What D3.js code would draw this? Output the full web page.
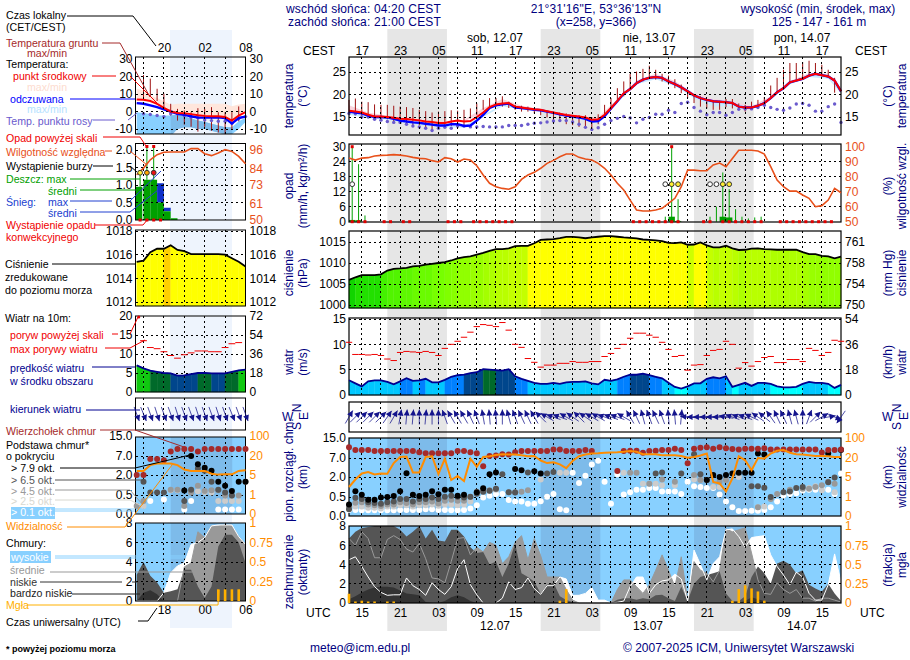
<!DOCTYPE html>
<html lang="pl">
<head>
<meta charset="utf-8">
<title>Meteorogram ICM</title>
<script src="https://cdnjs.cloudflare.com/ajax/libs/d3/7.8.5/d3.min.js"></script>
<style>
  body { margin: 0; background: #fff; }
  svg { display: block; }
  text { font-family: "Liberation Sans", Arial, sans-serif; font-size: 12px; }
</style>
</head>
<body>
<svg id="chart" width="910" height="660"></svg>
<script>
// main panel: one value per hour, index 0 = 13 UTC on 11.07, index 77 = 18 UTC on 14.07
const tempMid = [16.4,16.2,16,15.5,15.1,15.1,15,14.85,14.6,14.55,
  14.4,14.25,14,13.9,13.65,13.65,14,14.2,14,14.1,
  15,16,17.2,17.8,18,18.1,17.3,17.1,16.9,16.7,
  16.6,16.3,16,15.7,15.45,15.3,15.1,14.9,14.4,14.5,
  15.5,17,18.6,20.3,21.2,22.5,23.3,23.7,23.9,23.7,
  22.9,22.3,21.6,20.7,19.8,19.2,18.8,18.5,18.4,18.3,
  18.1,17.3,17.1,17.1,17.5,18.1,19.2,20.5,21.4,22.7,
  23.1,23.5,24.2,24.6,24.3,24,23.1,20.7];
const tempFeels = [16.2,16,15.8,15.3,15,15,14.9,14.6,14.2,14,
  13.8,13.7,13.5,13.3,13.1,13.1,13.4,13.4,13,13.1,
  14.2,15.45,17,17.6,17.8,18,17.1,17,16.8,16.6,
  16.5,16.2,15.9,15.6,15.3,15.1,14.9,14.6,14,14.1,
  15.2,16.9,18.5,20.2,21.2,22.5,23.3,23.7,23.9,23.7,
  22.9,22.3,21.6,20.7,19.8,19.2,18.8,18.5,18.4,18.3,
  18.1,17.3,17.1,17.1,17.5,18.1,19.2,20.5,21.4,22.7,
  23.1,23.5,24.2,24.6,24.3,24,23.1,20.7];
const tempDew = [15.8,15.7,15,15,14.5,14.3,14,13.8,13.8,13.4,
  13,12.8,12.5,12,12.5,12.7,12.5,13,13,12.8,
  12.8,12.9,12.8,12.8,12.8,13.1,13.1,13.1,13.4,13.6,
  13.7,13.9,14.1,14.2,14.2,13.9,13.4,12.7,12.2,12.6,
  13.4,14.2,14.7,15.1,14.8,13.7,14.5,14.9,15.6,15.6,
  16.5,16,18,18.3,17.1,16.3,15.5,16,16,15.4,
  16,16.7,16.8,16.8,17.1,17.6,17.1,16.7,16.5,17,
  17.9,18,17.6,16.3,16.3,17.3,17.9,13.8];
const groundMax = [18.8,19.1,18.4,18.3,17.8,17.7,17.7,17.5,17.3,17.2,
  17,16.6,16.3,16,16.2,16.3,16.5,16.4,16.6,16.9,
  18,18.8,19.2,19.2,19.6,18.4,17.7,17.5,17.3,16.9,
  16.7,16.4,16.2,16,15.8,15.4,15.4,15.4,15,15.6,
  17.7,19.2,21.4,22.9,24.6,25.1,25.7,26.4,25.5,24.6,
  24.2,23.4,22.2,21,19.9,19.6,19,18.6,18.6,19,
  19,18,17.7,18.4,18.8,19.4,22,23.7,25.5,27,
  27,27.2,27.5,27,26.6,25.5,23.7,20.7];
const groundMin = [15.8,15.4,15.2,15.1,14.9,14.5,14.5,14,13.7,13.2,
  12.8,13.2,12.5,12.2,12.8,13,13,12.5,13.2,14.7,
  15.4,16.6,16.9,17.3,17.3,17,16.6,16.2,16.2,15.8,
  15.4,14.9,14.3,14,13.4,13.2,12.8,12.7,12.5,13.4,
  15.1,16.6,18.4,19.6,21.2,22.2,22.9,23.5,23.3,22.9,
  22.2,21.4,20.3,19.2,18.1,17.3,16.9,16.6,16.6,17.2,
  16.9,16.6,16.2,16.9,17.3,17.7,19.2,20.3,21,22.5,
  23.3,23.3,23.9,24.4,24,23.7,20.4,20.7];
const bandIdx = [0,3,6,9,12,15,18,21,24,27,30,33,36,39,42,45,48,51,54,57,60,63,66,69,72,75,77];
const tempHigh = [17.6,16,15.3,14.9,14.3,14,14.4,17,19,17.5,16.8,15.9,15.3,14.9,19,23.1,24.6,23,20.3,19,18.5,17.4,19.6,23,24.7,24.6,21.5];
const feelsLow = [15.5,14.7,14.4,13.6,13,12.7,12.6,15,17.4,16.7,16.2,15.2,14.5,13.5,18.2,22.3,23.4,21.9,19.2,17.4,17.4,16.8,18.9,22.3,23.9,23.5,20.3];

const humidity = [92.4,91.1,92.4,92.7,93.8,94.2,94.4,94.7,94.4,93.8,
  92.9,92.2,92,90.7,89.8,92.7,92,89.8,91.8,91.1,
  87.3,81.1,75.6,73.3,72.2,71.6,73.3,78.2,81.1,82.9,
  85.6,88.9,90.9,93.3,95.1,95.1,92.9,91.8,91.1,88.9,
  85.6,81.1,75.6,71.1,64.4,57.8,57.1,57.1,57.8,58.9,
  62.2,65.6,73.3,84.4,84.4,84,84,87.8,89.1,86.7,
  92.2,97.6,97.6,97.6,97.1,95.1,86.7,77.8,73.3,70.4,
  70.4,67.8,65.6,60,60.7,64.4,72.2,69.3];
const rainHours = [0,1,2,49,50,51,56,57,58,59,60,61,62,63,64];
const rainMax = [31,23,2.5,2,31,9,2,6,19.7,13,5,2,1.3,1.7,2];
const rainMean = [0.7,0.6,0,0,2,0.3,0,0,2,1.7,0,0,0,0,0];
const convHours = [0,1,2,5,6,8,9,15,16,17,19,20,21,22,23,24,25,44,45,46,47,48,49,50,51,55,56,58,59,60,61,62,63,64,67,68,69,70,71,72,73,74,75];
const stormHours = [0,49,50,51,56,57,58,59];
const stormLevels = [0,0,1,1,0,0,1,1];

const pressure = [1006,1006.6,1007.1,1007.1,1007.1,1007.3,1008.2,1008.6,1008.7,1008.85,
  1009.2,1009.3,1009.6,1009.8,1010,1010.2,1010.6,1011.1,1011.4,1011.6,
  1012,1012.4,1012.9,1013.3,1013.3,1013.5,1014,1014.1,1014.1,1014.7,
  1015.5,1015.6,1015.7,1015.9,1016.2,1016.2,1016.1,1015.9,1016.1,1016.25,
  1016.4,1016.4,1016.25,1016.1,1016,1015.85,1015.6,1015.5,1015.4,1015.2,
  1014.8,1014.75,1014.9,1014.35,1014.4,1014.9,1014.2,1013.7,1013.7,1014.1,
  1013.5,1013.1,1013.15,1013.4,1013.5,1013.3,1013.25,1013.15,1013.15,1013.15,
  1013.15,1012.6,1012.1,1012.1,1011.7,1011.6,1011.1,1011.5];
const windSpeed = [2.9,2.3,1.7,2.7,2.9,2.9,2.6,2.1,2.7,3.3,
  2.8,2.9,3.2,2.5,2.5,3,3.6,3.9,4,4.3,
  4.5,5.1,5,4.9,4.8,5.1,3.7,3.2,2.8,2.4,
  2.2,2.2,2.4,2.2,2.5,2.6,2.6,2.7,2.3,2.1,
  3,2.8,3.1,3.6,4,4,4.2,3.9,3.6,3.3,
  2.4,1.6,1.25,1.7,2.3,2.3,3.2,3.5,3.3,3.7,
  1.6,2,2.4,1.8,2.4,2.4,2.2,1.7,1.5,1.5,
  1.6,2.2,2.6,2.4,2.4,2.2,1.4,2];
const windGust = [10.4,8,8,7.9,8,7.8,7.1,6.8,8.4,8.6,
  8.5,8.4,8.6,8.4,7.8,9.2,10,10.6,11.4,12.4,
  13.5,13.9,13.75,13.5,14.3,12.8,10,9.4,7.2,6.45,
  5.5,5.9,5.9,6.25,6.25,6.6,6.45,6.45,6.6,6.6,
  7.6,8.2,9.2,10,11.2,12.2,12.2,11.8,11.4,10.4,
  9,7.6,7.8,4.9,5.9,6,7.8,8.8,9,10.6,
  10,5.3,6.4,5.7,6.6,7.4,7.6,6.4,6.4,7,
  7,6.6,9.2,8.8,7.8,8.4,10.8,10.6];
const windTo = [30,45,45,45,45,45,35,30,10,5,
  5,0,5,0,0,-20,-30,-30,-30,-25,
  -20,-10,-5,-5,0,-15,-20,-25,-25,-30,
  -45,-60,-70,-70,-60,-55,-45,-55,-60,-60,
  -70,-70,-70,-60,-30,-25,-15,-20,-25,-20,
  -5,-5,5,-85,-90,-90,-90,-90,-90,-80,
  -70,-70,-70,-65,-55,-50,-35,-25,-25,-15,
  -15,0,20,45,60,80,110,215];

const cloudTop = [11.3,10.2,10.2,10.2,9.8,9.8,9.8,9.8,9.8,9.8,
  9.8,9.3,8.9,8.9,8.9,8.9,8.9,9.8,9.8,9.3,
  8.9,4.8,7.8,8,8.5,8.4,9.3,9.8,9.8,9.8,
  9.8,9.8,10.4,10.4,9.8,9.8,9.8,10.2,9.8,null,
  null,null,3.6,9.8,9.9,9.9,9.1,9.8,9.9,10.2,
  10.2,10.7,10.2,5.6,10.7,11.1,11.3,10.7,11.3,10.9,
  10.6,10.4,10.7,10.7,10.7,10.9,10.4,10.4,10.4,10.4,
  10.4,10.4,10.4,10.4,9.2,10.2,10.2,10.4];
const base79 = [0.3,0.94,0.66,0.43,0.43,0.49,0.5,0.58,0.94,3,
  0.66,0.58,0.66,0.94,0.7,1.04,1.04,0.6,0.66,null,
  0.86,1.15,2.7,3.2,null,null,4.1,3.8,null,3.5,
  2.95,null,null,null,null,null,null,null,null,null,
  null,null,null,null,null,null,null,null,null,null,
  null,null,null,null,null,null,1.77,2.5,2,2.5,
  2.95,3.1,3.1,3.1,8.8,8.4,null,null,null,null,
  null,null,null,null,null,8.8,null,10.2];
const base65 = [0.18,0.48,0.45,0.36,0.34,0.32,0.36,0.38,0.45,0.45,
  0.38,0.45,0.45,0.49,0.45,0.52,0.6,0.52,0.49,0.52,
  0.75,0.9,0.97,1.12,2.7,0.86,0.84,null,3.2,null,
  null,2.95,3.3,null,null,null,null,null,null,null,
  null,null,null,null,null,null,null,null,2.95,3.2,
  null,null,2.95,null,8.5,2.7,null,null,null,null,
  null,null,null,1.3,1.3,1.2,0.5,null,0.86,0.91,
  1.17,1.25,null,null,null,1.6,1.97,null];
const base45 = [0.25,0.35,0.36,0.3,0.28,0.26,0.3,0.3,0.36,0.34,
  0.3,0.36,0.36,0.38,0.33,0.4,0.43,0.4,0.4,0.5,
  0.9,0.95,1,1.1,null,0.85,0.85,0.9,1,null,
  null,null,null,null,null,null,null,null,null,null,
  null,null,null,null,3.1,3.1,null,1.5,null,1.82,
  null,1.64,null,null,2.5,1.77,1.77,null,1.64,1.77,
  null,null,null,null,0.23,null,0.45,0.73,null,1.04,
  null,1.12,1.12,1.25,1.38,1.64,1.5,null];
const base25 = [0.2,0.25,0.25,0.22,0.22,0.2,0.25,0.25,0.28,0.28,
  0.25,0.28,0.28,0.3,0.27,0.3,0.3,0.28,0.3,0.38,
  0.8,0.9,0.95,1.04,null,null,null,null,null,null,
  1.82,null,null,3.1,3.1,null,null,null,null,null,
  null,null,null,3.1,null,null,1.5,1.5,1.5,1.38,
  null,1.38,null,null,1.82,1.77,null,1.25,1.25,null,
  null,2,null,null,0.23,0.25,null,null,null,null,
  null,null,1.17,1.3,1,null,0.86,null];
const base01 = [0.16,0.16,0.15,0.15,0.15,0.15,0.15,0.15,0.16,0.16,
  0.16,0.16,0.18,0.18,0.16,0.16,0.15,0.15,0.16,0.2,
  0.28,0.49,0.6,0.73,0.73,0.42,0.38,0.38,0.32,0.32,
  0.39,0.51,0.73,0.18,0.15,3.1,1.55,2.3,5.3,6.3,
  1.64,0.32,2.7,0.68,0.86,1.04,1.04,1.17,1.17,0.91,
  0.91,0.91,0.73,1.64,1.3,1.25,1.17,1.17,0.68,0.38,
  0.23,0.13,0.13,0.14,0.14,0.16,0.23,0.38,0.62,0.73,
  0.78,0.99,1.04,1.04,1.12,1.04,0.73,2.95];
const visibility = [3,4.5,7.8,8.9,7,7.8,7.6,16,24,25.5,
  8.6,8.6,24,27,7.3,19.5,4.4,5.8,4.2,19.5,
  13,24,27,32,35,34,34,31,27,28,
  18,16,16.6,15,12,17.7,27,34,38,39,
  41,42,43,45,48,45,35,35,35,31,
  31,31,28,21,24,30,38,4,3.7,2.1,
  4.7,27,18.2,10.4,20,19.5,38,49,52,41,
  35,34,31,28,28,27,24,24];
const cloudHigh = [4.5,4.8,3.8,2.7,1.7,1.1,0.8,0.85,0.85,2.6,
  1.8,1.4,0.8,2.1,1.4,0.9,1.7,3.6,4.5,1.9,
  0.85,0,0,0,0.5,2.2,1.4,1.6,2.6,1.5,
  0.9,1.8,1.8,2.7,2.5,0.8,0.8,1,1.6,0.3,
  0.3,0,0.07,0.2,1.7,2.7,2.7,1,1.9,2.3,
  2.4,3,2.5,0.2,5.5,4,2.4,4.1,4.8,7.6,
  7.7,6.9,5.8,6.8,6.9,7,5,3.8,2.9,1.9,
  3.2,2.7,1,0.3,0.3,1.9,5.1,2.2];
const cloudMid = [6.7,6,7.4,6.7,4.7,4.7,6.6,7,6.6,5.6,
  5.3,6.2,4.6,2.6,2.5,2.1,4.3,6.7,6.8,5,
  5.8,5.3,6.3,6,4.1,4.8,6.3,7,4.5,6.7,
  4.9,2.7,2.7,2.7,1.4,0.3,0,0,0,0,
  0,0,1.4,2.4,2.4,1.7,1,1.9,3.4,5,
  3.4,1.7,4.8,0.3,4.3,3.4,3.1,2.2,3.4,7.7,
  7.4,7.6,7.8,5.2,2.4,1,0.9,2.1,1.4,1,
  1.4,0.5,0.5,0.2,0.5,0.5,0.3,0.1];
const cloudLow = [6.7,7.4,7.8,7.9,8,8,8,8,7.6,6.9,
  7.4,8,6.7,7.6,6.5,6.4,7.6,7.6,6.9,5.8,
  5.2,5.3,4,4.3,2.7,4.1,6.2,3.1,2.7,2.2,
  1,1.9,2.1,0.7,0.3,0.1,0,0,0,0,
  0,0,0.35,0.5,0.5,0.35,0.5,0.4,0.8,0.85,
  0.5,0.2,1.7,0.2,2,2.7,2.9,3.1,3.3,1,
  0.2,0.2,0.7,2.7,3.8,3.1,2,4.1,4.4,4,
  3.1,3.4,1.9,1.5,1.2,2,1,0.2];
const cloudVeryLow = [0.4,0.7,1.1,1.4,1.6,1.7,1.7,1.6,1.3,1,
  0.9,0.8,0.1,0,0,0.2,0.6,0.8,0.6,0.2,
  0,0,0,0,0,0,0,0,0,0,
  0,0,0,0,0,0,0,0,0,0,
  0,0,0,0,0,0,0,0,0,0,
  0,0,0,0,0,0,0,0,0,0,
  0,0,0.2,0.6,0.4,0.2,0,0,0,0,
  0,0,0,0,0,0,0,0];
const fogHours = [0,1,2,3,4,6,7,33,34,60,61,62,63,64,65];
const fogValues = [0.12,0.02,0.03,0.02,0.02,0.02,0.02,0.03,0.18,0.03,0.18,0.23,0.19,0.15,0.03];

// legend panel: hourly samples, index 0 = 14 UTC, index 16 = 06 UTC
const legMid = [6.9,6.7,6,4.4,2.1,0,-0.8,-1,-1.5,-2.1,-2.5,-2.7,-2.7,-3.1,-5.2,-2.3,-0.4];
const legFeels = [4.8,4.4,3.5,2.5,1.2,0,-1.3,-1.9,-2.7,-3.5,-3.5,-3.5,-3.3,-3.8,-6.9,-3.7,-2.9];
const legDew = [null,-1.3,-1.7,-2.3,-2.9,-1.3,-1.3,-2.3,-3.3,-3.7,-4.8,-5.2,-5.6,-5.6,-6.7,-4.2,-2.9];
const legGroundMax = [null,20.8,18.8,13,10.2,4.4,1.5,0.6,-0.4,1.9,1.5,2.5,-0.4,-0.4,-0.4,2.9,null];
const legGroundMin = [null,7.3,8.3,6,2.5,-2.3,-5.2,-7.5,-8.7,-11.5,-8.7,-11,-12,-12.9,-10,-5.6,null];
const legHigh = [13,12,9,7.7,5.8,3.8,4.4,4.4,4.4,4.4,4.4,4.4,4.4,4.4,3,4,4.4];
const legBlueTop = [-0.4,-0.8,-1.4,-2.3,-2.3,-2.3,-1.9,-2.7,-4,-5.2,-6,-7,-8,-9,-9,-5.5,-3.5];
const legBlueLow = [-14,-14,-14,-14,-14,-14,-10,-9,-9,-10,-10,-11,-12,-13,-13,-10,-6];
const legHumidity = [79.7,84.1,89.6,92.9,94.5,94.7,94.7,94.7,96.9,96.9,93.6,92.3,94,96.2,95.1,91.8,87];
const legRainHours = [0,1,2,3,4,5];
const legRainMean = [0.95,1.15,1.15,0.5,0.25,0.05];
const legSnowTop = [0,0,0,1.05,0.35,0];
const legRainMax = [1.35,2.1,2.1,0,0,0];
const legOverHours = [1,2];
const legConvHours = [0,1,2,3];
const legStormHours = [0,1,2];
const legStormColors = ["#ffee33","#ffa500","#ee1111"];
const legPressure = [1015.4,1015.5,1016.2,1016.5,1016.5,1016.8,1016.4,1016.3,1016.05,1016.05,1016.05,1016.05,1016.05,1016,1015.7,1015.4,1015];
const legWind = [7,6.2,5.6,5.3,5,4.9,4.3,4.4,4.7,5,5,4.9,4.9,4.9,5.3,5.7,5.9];
const legGust = [null,13.5,11.7,11.4,10.6,9.6,8.9,9.8,10.3,10.8,10.8,10.6,10.6,11.7,12.7,13,null];
const legWindTo = [160,158,160,162,160,160,162,160,160,162,160,160,162,160,158,160,160];
const legTop = [2,2,6.2,6.2,5.9,8.8,9.8,9.8,9.8,8.8,9.8,9.8,9.8,9.8,9.8,9.8,9.8];
const leg79 = [null,null,null,null,null,null,null,0.83,7,4.8,3.9,3.1,1.5,1.2,0.8,1.5,1.5];
const leg65 = [null,1.5,0.68,0.68,0.68,null,null,0.34,0.9,3.7,3.1,1.5,0.9,0.68,0.49,null,null];
const leg45 = [0.21,0.34,null,null,null,0.9,0.9,0.21,0.68,1.2,0.8,0.85,0.85,0.49,0.49,0.49,1.5];
const leg25 = [null,0.21,null,null,null,0.85,0.85,null,0.8,0.78,0.72,0.68,0.34,0.34,0.34,0.34,null];
const leg01 = [null,null,0.34,null,0.38,null,null,0.12,0.34,null,null,null,0.12,0.12,0.12,0.12,null];
const legVis = [8.2,8.2,12.8,14.1,14.1,14.1,12.8,9.3,8.2,8.2,8.2,6,5.3,5.5,5.5,8.2,8.8];
const legCloudHigh = [0,0,0,0,0.85,2.9,3.6,3.9,5.8,6,6.5,7.7,7.8,7.8,7.8,6.6,5.8];
const legCloudMid = [0,0,0,0,0,0,0,3.5,3.9,7.1,6.5,7.7,7.7,7.8,7.7,6.6,5.8];
const legCloudLow = [2.7,4,2.6,1.9,0.85,1,1.2,3.2,3.2,1.5,0.3,1.5,5.6,6.8,6.8,6,3.9];
const legCloudVeryLow = [0,0.85,1.1,0.7,0,0,0,0,0,0,0,0,0,0,0,0,0];
const legFogHours = [12,13,14,15];
const legFogValues = [0.15,0.15,0.15,0.15];

// tick labels
const cestTicks = d3.range(2, 78, 6);
const cestLabels = ["17","23","05","11","17","23","05","11","17","23","05","11","17"];
const utcLabels = ["15","21","03","09","15","21","03","09","15","21","03","09","15"];
const nightBands = [[6, 15.33], [30, 39.33], [54, 63.33]];

const blue = "#000080", rhColor = "#e8501a", visColor = "#ff8c00", sky = "#88d0ff", skyNight = "#7dbbea";
const svg = d3.select("#chart");

function label(x, y, str, fill, opts) {
  opts = opts || {};
  const t = svg.append("text").attr("x", x).attr("y", y).attr("fill", fill || "#000").text(str);
  if (opts.anchor) t.attr("text-anchor", opts.anchor);
  if (opts.size) t.style("font-size", opts.size + "px");
  if (opts.weight) t.style("font-weight", opts.weight);
  if (opts.spacing) t.style("letter-spacing", opts.spacing + "px");
  if (opts.rot) t.attr("transform", "rotate(" + opts.rot + " " + x + " " + y + ")");
  return t;
}

function vlabel(x, y, str, fill) {
  label(x, y, str, fill || blue, {anchor: "middle", rot: -90});
}

function axis(x, side, scale, ticks, fmt, color) {
  const gen = (side === "l" ? d3.axisLeft(scale) : d3.axisRight(scale))
    .tickValues(ticks).tickSize(0).tickPadding(side === "l" ? 3 : 4).tickFormat(fmt || (d => d));
  const g = svg.append("g").attr("transform", "translate(" + x + ",0)").call(gen);
  g.select(".domain").remove();
  g.selectAll("text").attr("fill", color || "#000").style("font-size", "12px");
}

// dashed grid + border of one panel
function frame(x, gridX, y, ticks, left, right, top, bottom, w) {
  const g = svg.append("g");
  gridX.forEach(d => g.append("line").attr("x1", x(d)).attr("x2", x(d)).attr("y1", top).attr("y2", bottom));
  (ticks || []).forEach(d => g.append("line").attr("x1", left).attr("x2", right).attr("y1", y(d)).attr("y2", y(d)));
  g.selectAll("line").attr("stroke", "#000").attr("stroke-dasharray", "2,3").attr("shape-rendering", "crispEdges");
  svg.append("rect").attr("x", left).attr("y", top).attr("width", right - left).attr("height", bottom - top)
    .attr("fill", "none").attr("stroke", "#000").attr("stroke-width", w || 1);
}

// fills under a line, one color per hour step
function stepFill(x, y, values, bottom, colorOf) {
  const area = d3.area().x(d => x(d[0])).y0(bottom).y1(d => y(d[1]));
  for (let i = 0; i < values.length - 1; i++) {
    const c = colorOf((values[i] + values[i + 1]) / 2);
    svg.append("path").attr("d", area([[i, values[i]], [i + 1, values[i + 1]]]))
      .attr("fill", c).attr("stroke", c).attr("stroke-width", 0.4);
  }
}

const greenRamp = d3.scaleLinear().domain([1006, 1007, 1008, 1010, 1012, 1014.4])
  .range(["#00c800", "#22e000", "#44f000", "#77ff00", "#99ff00", "#ccff00"]);
function pressureColor(p) {
  if (p >= 1016.64) return "#ffd000";
  if (p >= 1014.4) return "#ffff00";
  return greenRamp(Math.round(p * 2) / 2);
}
function windColor(v) {
  if (v >= 5.6) return "#10c810";
  if (v >= 4.95) return "#006a2a";
  if (v >= 4) return "#00468c";
  if (v >= 3) return "#0080ff";
  if (v >= 2) return "#00c8ff";
  return "#00ffff";
}

function lineOf(x, y) {
  return d3.line().defined(d => d[1] != null).x(d => x(d[0])).y(d => y(d[1]));
}
function pairs(values) { return values.map((v, i) => [i, v]); }

function dots(x, y, values, fill, r) {
  svg.append("g").selectAll("circle").data(pairs(values).filter(d => d[1] != null)).join("circle")
    .attr("cx", d => x(d[0])).attr("cy", d => y(d[1])).attr("r", r).attr("fill", fill);
}

function arrows(x, yc, bearings, len) {
  const g = svg.append("g").attr("stroke", "#14148c").attr("fill", "#14148c");
  bearings.forEach((b, i) => {
    const a = b * Math.PI / 180, sx = Math.sin(a), sy = -Math.cos(a);
    const cx = x(i), hx = cx + sx * len / 2, hy = yc + sy * len / 2;
    g.append("line").attr("x1", cx - sx * len / 2).attr("y1", yc - sy * len / 2).attr("x2", hx).attr("y2", hy).attr("stroke-opacity", 0.75);
    g.append("path").attr("stroke", "none").attr("d",
      "M" + hx + "," + hy +
      "L" + (hx - sx * 6 - sy * 3) + "," + (hy - sy * 6 + sx * 3) +
      "L" + (hx - sx * 6 + sy * 3) + "," + (hy - sy * 6 - sx * 3) + "Z");
  });
}

function skyPanel(left, right, top, bottom, bandX0, bandX1) {
  svg.append("rect").attr("x", left).attr("y", top).attr("width", right - left).attr("height", bottom - top).attr("fill", sky);
  svg.append("rect").attr("x", bandX0).attr("y", top).attr("width", bandX1 - bandX0).attr("height", bottom - top).attr("fill", skyNight);
}

function cloudAreas(x, y, bottom, high, mid, low, vlow) {
  const area = d3.area().x(d => x(d[0])).y0(bottom).y1(d => y(d[1]));
  [[high, "#fff"], [mid, "#999"], [low, "#555"], [vlow, "#333"]].forEach(s =>
    svg.append("path").attr("d", area(pairs(s[0]))).attr("fill", s[1]));
  const line = lineOf(x, y);
  svg.append("path").attr("d", line(pairs(mid))).attr("fill", "none").attr("stroke", "#999");
  svg.append("path").attr("d", line(pairs(high))).attr("fill", "none").attr("stroke", "#fff");
}

/* ---------- night bands behind everything ---------- */
const X = d3.scaleLinear().domain([0, 77]).range([349, 841]);
const gridMain = d3.range(2, 77, 3);
nightBands.forEach(b => svg.append("rect").attr("x", X(b[0])).attr("y", 29)
  .attr("width", X(b[1]) - X(b[0])).attr("height", 602).attr("fill", "#e6e6e6"));

const XL = d3.scaleLinear().domain([0, 16]).range([136.7, 245.5]);
const gridLeg = [1, 4, 7, 10, 13];
const legBand = [XL(5), XL(14.05)];
svg.append("rect").attr("x", 170).attr("y", 30).attr("width", 62).attr("height", 598).attr("fill", "#eef4fd");

/* ---------- main panels ---------- */
const L = 349, R = 841;

// temperature
const yT = d3.scaleLinear().domain([15, 25]).range([117, 72]);
const band = bandIdx.map((i, k) => ({i: i, hi: tempHigh[k], lo: feelsLow[k]}));
svg.append("path").attr("d", d3.area().x(d => X(d.i)).y0(d => yT(tempMid[d.i])).y1(d => yT(d.hi))(band)).attr("fill", "#fad4dc");
svg.append("path").attr("d", d3.area().x(d => X(d.i)).y0(d => yT(d.lo)).y1(d => yT(tempFeels[d.i]))(band)).attr("fill", "#c8ebff");
svg.append("g").selectAll("line").data(d3.range(78)).join("line")
  .attr("x1", i => X(i)).attr("x2", i => X(i)).attr("y1", i => yT(groundMax[i])).attr("y2", i => yT(groundMin[i]))
  .attr("stroke", "#a01414");
dots(X, yT, tempDew, "#6a5acd", 1.7);
const lineT = lineOf(X, yT);
svg.append("path").attr("d", lineT(pairs(tempFeels))).attr("fill", "none").attr("stroke", "#0000ff").attr("stroke-width", 2.4);
svg.append("path").attr("d", lineT(pairs(tempMid))).attr("fill", "none").attr("stroke", "#ff0000").attr("stroke-width", 2);
frame(X, gridMain, yT, [15, 20, 25], L, R, 57, 135, 1.2);
axis(L, "l", yT, [15, 20, 25]);
axis(R, "r", yT, [15, 20, 25]);

// precipitation + humidity
const yP = d3.scaleLinear().domain([0, 30]).range([221.7, 146.7]);
const yH = d3.scaleLinear().domain([50, 100]).range([221.7, 146.7]);
rainHours.forEach((h, k) => {
  svg.append("line").attr("x1", X(h + 0.5)).attr("x2", X(h + 0.5)).attr("y1", yP(0)).attr("y2", yP(Math.min(rainMax[k], 30)))
    .attr("stroke", "#00a000");
  if (rainMean[k] > 0) svg.append("rect").attr("x", X(h)).attr("width", X(1) - X(0)).attr("y", yP(rainMean[k]))
    .attr("height", yP(0) - yP(rainMean[k])).attr("fill", "#00a000");
  if (rainMax[k] > 30) svg.append("rect").attr("x", X(h + 0.5) - 1.5).attr("y", yP(30) - 1.5).attr("width", 3).attr("height", 3).attr("fill", "#e00000");
});
frame(X, gridMain, yP, [6, 12, 18, 24], L, R, 144, 222, 1.2);
svg.append("path").attr("d", lineOf(X, yH)(pairs(humidity))).attr("fill", "none").attr("stroke", rhColor).attr("stroke-width", 1.6);
convHours.forEach(h => svg.append("rect").attr("x", X(h + 0.5) - 1.5).attr("y", yP(0) - 1.5).attr("width", 3).attr("height", 3).attr("fill", "#e00000"));
stormHours.forEach((h, k) => svg.append("circle").attr("cx", X(h + 0.5)).attr("cy", yP(15)).attr("r", 2.4)
  .attr("fill", stormLevels[k] ? "#ffee33" : "#fff").attr("stroke", "#333"));
axis(L, "l", yP, [0, 6, 12, 18, 24, 30]);
axis(R, "r", yH, [50, 60, 70, 80, 90, 100], null, rhColor);

// pressure
const yC = d3.scaleLinear().domain([1000, 1015]).range([305, 242]);
stepFill(X, yC, pressure, 308, pressureColor);
svg.append("path").attr("d", lineOf(X, yC)(pairs(pressure))).attr("fill", "none").attr("stroke", "#000").attr("stroke-width", 1.8);
frame(X, gridMain, yC, [1000, 1005, 1010, 1015], L, R, 231, 308, 1.2);
axis(L, "l", yC, [1000, 1005, 1010, 1015]);
axis(R, "r", yC, [1000, 1005, 1010, 1015], d => Math.round(d * 0.75006));

// wind
const yW = d3.scaleLinear().domain([0, 15]).range([395, 319]);
stepFill(X, yW, windSpeed, 395, windColor);
frame(X, gridMain, yW, [5, 10, 15], L, R, 318, 395, 1.2);
svg.append("path").attr("d", lineOf(X, yW)(pairs(windSpeed))).attr("fill", "none").attr("stroke", "#000090").attr("stroke-width", 1.8);
svg.append("g").selectAll("line").data(pairs(windGust)).join("line")
  .attr("x1", d => X(d[0] - 0.5)).attr("x2", d => X(d[0] + 0.5)).attr("y1", d => yW(d[1])).attr("y2", d => yW(d[1]))
  .attr("stroke", "#f00000");
axis(L, "l", yW, [0, 5, 10, 15]);
axis(R, "r", yW, [0, 5, 10, 15], d => d * 3.6);

// wind direction
frame(X, gridMain, null, null, L, R, 402, 432, 1.2);
arrows(X, 417, windTo, 15);

// cloud base
const kmDomain = [0, 0.5, 2, 7, 15], basePx = [516, 497, 477, 458, 438];
const yB = d3.scaleLinear().domain(kmDomain).range(basePx);
const yV = d3.scaleLinear().domain([0, 1, 5, 20, 100]).range(basePx);
skyPanel(L, R, 438, 516, X(6), X(15.33));
[[30, 39.33], [54, 63.33]].forEach(b => svg.append("rect").attr("x", X(b[0])).attr("y", 438)
  .attr("width", X(b[1]) - X(b[0])).attr("height", 78).attr("fill", skyNight));
frame(X, gridMain, yB, [0.5, 2, 7], L, R, 438, 516, 1.2);
dots(X, yB, base01, "#fff", 3);
dots(X, yB, base25, "#ccc", 3);
dots(X, yB, base45, "#999", 3);
dots(X, yB, base65, "#555", 3);
dots(X, yB, base79, "#000", 3);
dots(X, yB, cloudTop, "#a52a2a", 3);
svg.append("path").attr("d", lineOf(X, yV)(pairs(visibility))).attr("fill", "none").attr("stroke", visColor).attr("stroke-width", 2);
axis(L, "l", yB, [0, 0.5, 2, 7, 15], d => d.toFixed(1));
axis(R, "r", yV, [0, 1, 5, 20, 100], null, visColor);

// cloud cover + fog
const yO = d3.scaleLinear().domain([0, 8]).range([603, 526]);
const yF = d3.scaleLinear().domain([0, 1]).range([603, 526]);
skyPanel(L, R, 526, 603, X(6), X(15.33));
[[30, 39.33], [54, 63.33]].forEach(b => svg.append("rect").attr("x", X(b[0])).attr("y", 526)
  .attr("width", X(b[1]) - X(b[0])).attr("height", 77).attr("fill", skyNight));
cloudAreas(X, yO, 603, cloudHigh, cloudMid, cloudLow, cloudVeryLow);
frame(X, gridMain, yO, [2, 4, 6], L, R, 526, 603, 1.2);
fogHours.forEach((h, k) => svg.append("rect").attr("x", X(h) - 1.3).attr("width", 2.6).attr("y", yF(fogValues[k]))
  .attr("height", yF(0) - yF(fogValues[k])).attr("fill", "#ffb000"));
axis(L, "l", yO, [0, 2, 4, 6, 8]);
axis(R, "r", yF, [0, 0.25, 0.5, 0.75, 1], null, visColor);

// time axes
function timeAxis(x, y, ticks, labels, gen) {
  const g = svg.append("g").attr("transform", "translate(0," + y + ")")
    .call(gen(x).tickValues(ticks).tickSize(0).tickPadding(0).tickFormat((d, i) => labels[i]));
  g.select(".domain").remove();
  g.selectAll("text").style("font-size", "12px").attr("fill", "#000");
}
timeAxis(X, 55, cestTicks, cestLabels, d3.axisTop);
timeAxis(X, 608.5, cestTicks, utcLabels, d3.axisBottom);
label(303, 55, "CEST"); label(855, 55, "CEST");
label(306, 617, "UTC"); label(860, 617, "UTC");
label(495, 42, "sob, 12.07", "#000", {anchor: "middle"});
label(649, 42, "nie, 13.07", "#000", {anchor: "middle"});
label(802, 42, "pon, 14.07", "#000", {anchor: "middle"});
label(495, 630, "12.07", "#000", {anchor: "middle"});
label(648, 630, "13.07", "#000", {anchor: "middle"});
label(802, 630, "14.07", "#000", {anchor: "middle"});

// header and footer
label(286, 13, "wschód słońca: 04:20 CEST", blue, {spacing: 0.17});
label(288, 26, "zachód słońca: 21:00 CEST", blue, {spacing: 0.17});
label(596, 13, "21°31'16\"E, 53°36'13\"N", blue, {anchor: "middle", spacing: 0.2});
label(596, 26, "(x=258,  y=366)", blue, {anchor: "middle"});
label(818, 13, "wysokość (min, środek, max)", blue, {anchor: "middle"});
label(819, 26, "125 - 147 - 161 m", blue, {anchor: "middle"});
label(310, 652, "meteo@icm.edu.pl", blue);
label(623, 652, "© 2007-2025 ICM, Uniwersytet Warszawski", blue);

// side titles
vlabel(293, 96, "temperatura"); vlabel(307, 96, "(°C)");
vlabel(293, 186, "opad"); vlabel(307, 186, "(mm/h, kg/m²/h)");
vlabel(293, 273, "ciśnienie"); vlabel(307, 273, "(hPa)");
vlabel(293, 362, "wiatr"); vlabel(307, 362, "(m/s)");
vlabel(293, 470, "pion. rozciągł. chm."); vlabel(307, 477, "(km)");
vlabel(293, 572, "zachmurzenie"); vlabel(307, 572, "(oktanty)");
vlabel(892, 96, "(°C)"); vlabel(906, 96, "temperatura");
vlabel(892, 186, "(%)"); vlabel(906, 186, "wilgotność wzgl.");
vlabel(892, 273, "(mm Hg)"); vlabel(906, 273, "ciśnienie");
vlabel(892, 362, "(km/h)"); vlabel(906, 362, "wiatr");
vlabel(892, 477, "(km)"); vlabel(906, 477, "widzialność");
vlabel(892, 565, "(frakcja)"); vlabel(906, 565, "mgła");
[282, 882].forEach(x0 => {
  label(x0, 421, "W", blue);
  vlabel(x0 + 19, 408, "N");
  vlabel(x0 + 26, 416, "E");
  vlabel(x0 + 19, 426, "S");
});

/* ---------- legend panel on the left ---------- */
const LL = 135.5, LR = 245.5;

// temperature
const yT2 = d3.scaleLinear().domain([-10, 30]).range([129, 59]);
const clipT = svg.append("clipPath").attr("id", "legT");
clipT.append("rect").attr("x", LL).attr("y", 57).attr("width", LR - LL).attr("height", 77);
const clipN = svg.append("clipPath").attr("id", "legN");
clipN.append("rect").attr("x", legBand[0]).attr("y", 57).attr("width", legBand[1] - legBand[0]).attr("height", 77);
const legIdx = d3.range(17);
svg.append("path").attr("d", d3.area().x(i => XL(i)).y0(i => yT2(legMid[i])).y1(i => yT2(legHigh[i]))(legIdx)).attr("fill", "#ffe6dc");
const blueArea = d3.area().x(i => XL(i)).y0(i => yT2(legBlueLow[i])).y1(i => yT2(legBlueTop[i]))(legIdx);
svg.append("path").attr("d", blueArea).attr("fill", sky).attr("clip-path", "url(#legT)");
svg.append("path").attr("d", blueArea).attr("fill", skyNight).attr("clip-path", "url(#legN)");
legIdx.filter(i => legGroundMax[i] != null).forEach(i => svg.append("line").attr("x1", XL(i)).attr("x2", XL(i))
  .attr("y1", yT2(legGroundMax[i])).attr("y2", yT2(legGroundMin[i])).attr("stroke", "#a01414"));
dots(XL, yT2, legDew, "#6a5acd", 1.7);
svg.append("path").attr("d", lineOf(XL, yT2)(pairs(legFeels))).attr("fill", "none").attr("stroke", "#0000ff").attr("stroke-width", 2.4);
svg.append("path").attr("d", lineOf(XL, yT2)(pairs(legMid))).attr("fill", "none").attr("stroke", "#ff0000").attr("stroke-width", 2);
frame(XL, gridLeg, yT2, [-10, 0, 10, 20], LL, LR, 57, 134);
axis(LL, "l", yT2, [-10, 0, 10, 20, 30]);
axis(LR, "r", yT2, [-10, 0, 10, 20, 30]);

// precipitation
const yP2 = d3.scaleLinear().domain([0, 2]).range([220, 150]);
const yH2 = d3.scaleLinear().domain([50, 96]).range([220, 150]);
legRainHours.forEach((h, k) => {
  const w = XL(1) - XL(0);
  if (legSnowTop[k] > 0) svg.append("rect").attr("x", XL(h)).attr("width", w).attr("y", yP2(legSnowTop[k]))
    .attr("height", yP2(legRainMean[k]) - yP2(legSnowTop[k])).attr("fill", "#1030c8");
  svg.append("rect").attr("x", h === 0 ? LL : XL(h)).attr("width", w).attr("y", yP2(legRainMean[k]))
    .attr("height", yP2(0) - yP2(legRainMean[k])).attr("fill", "#00a000");
  if (legRainMax[k] > 0) svg.append("line").attr("x1", XL(h + 0.5)).attr("x2", XL(h + 0.5)).attr("y1", yP2(legRainMean[k]))
    .attr("y2", yP2(legRainMax[k])).attr("stroke", "#00a000");
});
frame(XL, gridLeg, yP2, [0.5, 1, 1.5, 2], LL, LR, 143.5, 220);
svg.append("path").attr("d", lineOf(XL, yH2)(pairs(legHumidity))).attr("fill", "none").attr("stroke", rhColor).attr("stroke-width", 1.6);
legOverHours.forEach(h => svg.append("rect").attr("x", XL(h + 0.5) - 1.5).attr("y", yP2(2.1) - 1.5).attr("width", 3).attr("height", 3).attr("fill", "#e00000"));
legConvHours.forEach(h => svg.append("rect").attr("x", XL(h + 0.5) - 1.5).attr("y", yP2(0) - 1.5).attr("width", 3).attr("height", 3).attr("fill", "#e00000"));
legStormHours.forEach((h, k) => svg.append("circle").attr("cx", XL(h + 0.5)).attr("cy", yP2(1.35)).attr("r", 2.4)
  .attr("fill", legStormColors[k]).attr("stroke", "#333"));
axis(LL, "l", yP2, [0, 0.5, 1, 1.5, 2], d => d.toFixed(1));
axis(LR, "r", yH2, [50, 61, 73, 84, 96], null, rhColor);

// pressure
const yC2 = d3.scaleLinear().domain([1012, 1018]).range([302, 231]);
stepFill(XL, yC2, legPressure, 306, pressureColor);
svg.append("path").attr("d", lineOf(XL, yC2)(pairs(legPressure))).attr("fill", "none").attr("stroke", "#000").attr("stroke-width", 1.8);
frame(XL, gridLeg, yC2, [1012, 1014, 1016, 1018], LL, LR, 230, 306);
axis(LL, "l", yC2, [1012, 1014, 1016, 1018]);
axis(LR, "r", yC2, [1012, 1014, 1016, 1018]);

// wind
const yW2 = d3.scaleLinear().domain([0, 20]).range([392, 316]);
stepFill(XL, yW2, legWind, 392, windColor);
frame(XL, gridLeg, yW2, [5, 10, 15], LL, LR, 316, 392);
svg.append("path").attr("d", lineOf(XL, yW2)(pairs(legWind))).attr("fill", "none").attr("stroke", "#000090").attr("stroke-width", 1.8);
pairs(legGust).filter(d => d[1] != null).forEach(d => svg.append("line")
  .attr("x1", XL(d[0] - 0.5)).attr("x2", XL(d[0] + 0.5)).attr("y1", yW2(d[1])).attr("y2", yW2(d[1])).attr("stroke", "#f00000"));
svg.append("circle").attr("cx", XL(0.3)).attr("cy", yW2(20) + 1).attr("r", 1.5).attr("fill", "#e00000");
axis(LL, "l", yW2, [0, 5, 10, 15, 20]);
axis(LR, "r", yW2, [0, 5, 10, 15, 20], d => d * 3.6);

// wind direction
frame(XL, gridLeg, null, null, LL, LR, 398, 430);
arrows(XL, 414, legWindTo, 15);

// cloud base
const yB2 = d3.scaleLinear().domain(kmDomain).range([514, 495, 475, 456, 436]);
const yV2 = d3.scaleLinear().domain([0, 1, 5, 20, 100]).range([514, 495, 475, 456, 436]);
skyPanel(LL, LR, 437, 514, legBand[0], legBand[1]);
frame(XL, gridLeg, yB2, [0.5, 2, 7], LL, LR, 437, 514);
dots(XL, yB2, leg01, "#fff", 3);
dots(XL, yB2, leg25, "#ccc", 3);
dots(XL, yB2, leg45, "#999", 3);
dots(XL, yB2, leg65, "#555", 3);
dots(XL, yB2, leg79, "#000", 3);
dots(XL, yB2, legTop, "#a52a2a", 3);
svg.append("path").attr("d", lineOf(XL, yV2)(pairs(legVis))).attr("fill", "none").attr("stroke", visColor).attr("stroke-width", 2);
axis(LL, "l", yB2, [0, 0.5, 2, 7, 15], d => d.toFixed(1));
axis(LR, "r", yV2, [0, 1, 5, 20, 100], null, visColor);

// cloud cover
const yO2 = d3.scaleLinear().domain([0, 8]).range([601, 523]);
const yF2 = d3.scaleLinear().domain([0, 1]).range([601, 523]);
skyPanel(LL, LR, 523, 601, legBand[0], legBand[1]);
cloudAreas(XL, yO2, 601, legCloudHigh, legCloudMid, legCloudLow, legCloudVeryLow);
frame(XL, gridLeg, yO2, [2, 4, 6], LL, LR, 523, 601);
legFogHours.forEach((h, k) => svg.append("rect").attr("x", XL(h) - 1.3).attr("width", 2.6).attr("y", yF2(legFogValues[k]))
  .attr("height", yF2(0) - yF2(legFogValues[k])).attr("fill", "#ffb000"));
axis(LL, "l", yO2, [0, 2, 4, 6, 8]);
axis(LR, "r", yF2, [0, 0.25, 0.5, 0.75, 1], null, visColor);

timeAxis(XL, 52, [4, 10, 16], ["20", "02", "08"], d3.axisTop);
timeAxis(XL, 605.5, [4, 10, 16], ["18", "00", "06"], d3.axisBottom);

/* ---------- legend text and leader lines ---------- */
const legendText = [
  [6, 19, "Czas lokalny", "#000"], [6, 31, "(CET/CEST)", "#000"],
  [6, 47, "Temperatura gruntu", "#a52a2a"], [27, 57, "max/min", "#a52a2a"],
  [6, 68, "Temperatura:", "#000"], [13, 80, "punkt środkowy", "#f00000"], [27, 91, "max/min", "#fddccf"],
  [10, 103, "odczuwana", "#0000ff"], [27, 113, "max/min", "#b5e2ff"], [6, 125, "Temp. punktu rosy", "#6a5acd"],
  [6, 142, "Opad powyżej skali", "#f00000"], [6, 156, "Wilgotność względna", rhColor], [6, 170, "Wystąpienie burzy", "#000"],
  [6, 183, "Deszcz: max", "#00a000"], [48, 195, "średni", "#00a000"], [6, 206, "Śnieg:", "#2040d0"], [48, 206, "max", "#2040d0"],
  [48, 217, "średni", "#2040d0"], [6, 229, "Wystąpienie opadu", "#f00000"], [6, 241, "konwekcyjnego", "#f00000"],
  [5, 268, "Ciśnienie", "#000"], [5, 281, "zredukowane", "#000"], [5, 294, "do poziomu morza", "#000"],
  [5, 322, "Wiatr na 10m:", "#000"], [10, 339, "poryw powyżej skali", "#f00000"], [10, 353, "max porywy wiatru", "#f00000"],
  [10, 372, "prędkość wiatru", "#000090"], [10, 385, "w środku obszaru", "#000090"], [10, 413, "kierunek wiatru", "#000090"],
  [6, 435, "Wierzchołek chmur", "#a52a2a"], [6, 449, "Podstawa chmur*", "#000"], [6, 460, "o pokryciu", "#000"],
  [11, 472, "> 7.9 okt.", "#000"], [11, 484, "> 6.5 okt.", "#555"], [11, 495, "> 4.5 okt.", "#999"], [11, 505, "> 2.5 okt.", "#d8d8d0"],
  [6, 530, "Widzialność", visColor], [6, 547, "Chmury:", "#000"], [10, 574, "średnie", "#999"], [10, 586, "niskie", "#333"],
  [10, 597, "bardzo niskie", "#222"], [6, 609, "Mgła", "#ffb000"], [6, 626, "Czas uniwersalny (UTC)", "#000"]
];
const legendSize = 10.6;
const leaders = [
  ["#000", [[67, 16], [133, 16], [156, 46]]],
  ["#a52a2a", [[102, 43], [120, 43], [150, 97]]],
  ["#f00000", [[92, 76], [116, 76]]], ["#f00000", [[130, 76], [157, 103]]],
  ["#0000ff", [[70, 99], [135, 99]]],
  ["#6a5acd", [[93, 120], [115, 120]]], ["#6a5acd", [[128, 120], [137, 113]]],
  ["#f00000", [[103, 137], [140, 137], [146, 146]]],
  [rhColor, [[105, 151], [112, 151]]], [rhColor, [[130, 151], [147, 165]]],
  ["#000", [[93, 166], [113, 166]]], ["#000", [[130, 166], [137, 172]]],
  ["#00a000", [[70, 179], [140, 179]]], ["#00a000", [[80, 190], [136, 190]]],
  ["#2040d0", [[70, 201], [112, 201]]], ["#2040d0", [[130, 201], [161, 171]]],
  ["#2040d0", [[80, 212], [130, 212], [158, 190]]],
  ["#f00000", [[95, 225], [143, 225], [148, 219]]],
  ["#000", [[52, 264], [135, 264]]],
  ["#f00000", [[112, 334], [118, 334]]], ["#f00000", [[130, 334], [138, 317]]],
  ["#f00000", [[105, 348], [130, 348], [145, 340]]],
  ["#000090", [[92, 367], [135, 367]]],
  ["#000090", [[86, 410], [140, 410]]],
  ["#a52a2a", [[100, 430], [135, 430], [184, 447]]],
  ["#000", [[60, 468], [135, 468], [190, 455]]],
  ["#555", [[55, 480], [143, 480]]],
  ["#999", [[55, 490], [130, 490], [143, 505]]],
  ["#d8d8d0", [[55, 500], [130, 500], [140, 505]]],
  [sky, [[55, 509], [135, 509]]], [sky, [[55, 511], [135, 511]]],
  [visColor, [[67, 527], [125, 527], [172, 465]]],
  [sky, [[55, 556], [185, 556]]], [sky, [[55, 558], [185, 558]]],
  ["#999", [[50, 572], [192, 572]]],
  ["#333", [[40, 582], [122, 582]]], ["#333", [[132, 582], [137, 582]]],
  ["#222", [[72, 594], [140, 594]]],
  ["#ffb000", [[27, 605], [218, 605], [219, 590]]],
  ["#000", [[138, 621], [148, 621], [157, 608]]]
];
const leaderLine = d3.line();
leaders.forEach(d => svg.append("path").attr("d", leaderLine(d[1])).attr("fill", "none").attr("stroke", d[0]));

legendText.forEach(d => label(d[0], d[1], d[2], d[3], {size: legendSize}));
svg.append("rect").attr("x", 11).attr("y", 507).attr("width", 44).attr("height", 12).attr("fill", sky);
label(11, 516, "> 0.1 okt.", "#fff", {size: legendSize});
svg.append("rect").attr("x", 10).attr("y", 551).attr("width", 41).attr("height", 12).attr("fill", sky);
label(11, 561, "wysokie", "#fff", {size: legendSize});
label(6, 652, "* powyżej poziomu morza", "#000", {size: 9, weight: "bold"});
</script>
</body>
</html>
